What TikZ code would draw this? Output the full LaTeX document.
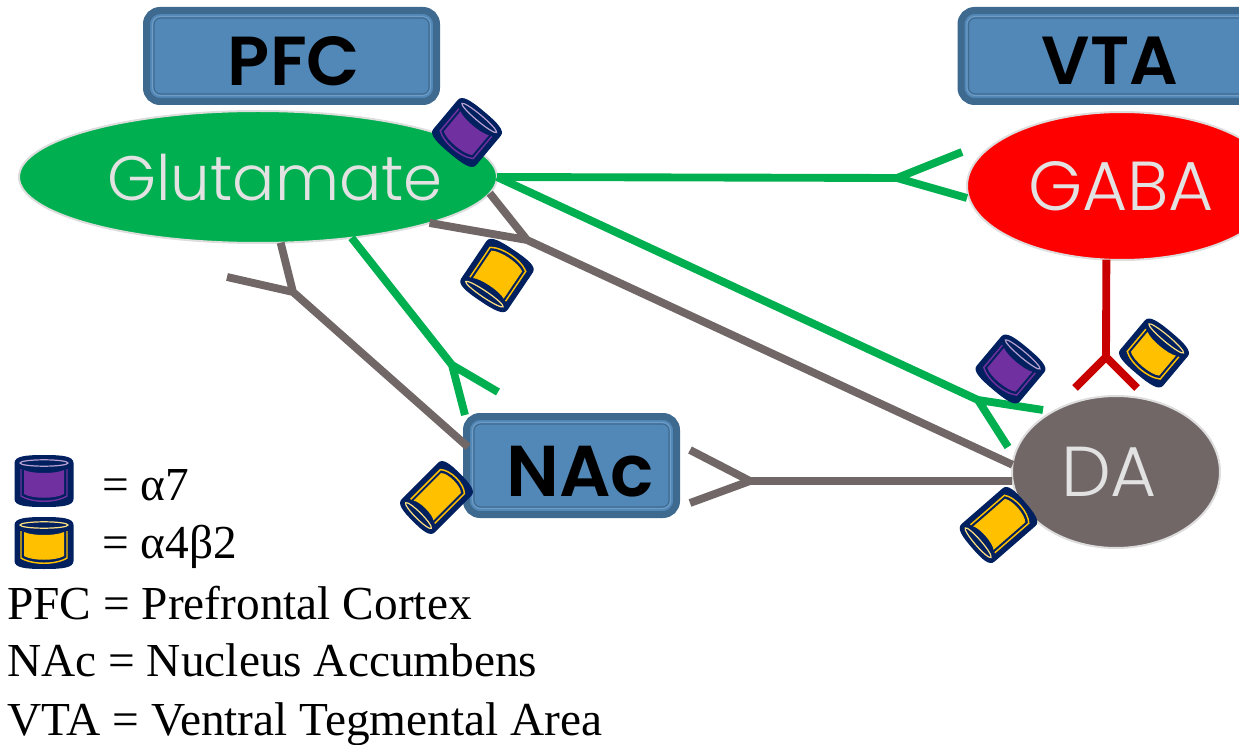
\documentclass[tikz,border=0pt]{standalone}
\usepackage{fontspec}
\usetikzlibrary{shapes.geometric}
\setmainfont{Liberation Serif}
\newfontfamily\gothic{Poppins Light}
\newfontfamily\gothicbold{Poppins SemiBold}
\definecolor{navyr}{HTML}{002060}
\definecolor{purpler}{HTML}{7030A0}
\definecolor{purplel}{HTML}{B9A0D0}
\definecolor{yellowr}{HTML}{FFC000}
\definecolor{yellowl}{HTML}{FFE080}
\definecolor{glutgreen}{HTML}{00B050}
\definecolor{gabared}{HTML}{FF0000}
\definecolor{darkredl}{HTML}{C80000}
\definecolor{dagray}{HTML}{726767}
\definecolor{boxfill}{HTML}{5288B8}
\definecolor{boxedge}{HTML}{3F6A90}
\definecolor{boxlight}{HTML}{6F9CC6}
\definecolor{edgegray}{HTML}{DDDDDD}
\definecolor{lighttext}{HTML}{E2E2E2}
\newcommand{\pxpt}[1]{#1*0.75pt}
\tikzset{
  x=0.75pt,y=-0.75pt,
  regionbox/.style={rectangle,rounded corners=13.5pt*0.75,fill=boxfill,draw=boxedge,line width=7pt*0.75,outer sep=0pt,inner sep=0pt},
  regionname/.style={inner sep=0pt,text=black,font=\gothicbold\fontsize{#1}{60}\selectfont},
  framelight/.style={draw=boxlight,line width=0.8pt,rounded corners=6pt},
  framedark/.style={draw=boxedge,line width=0.8pt,rounded corners=5pt},
  cellbody/.style={ellipse,draw=edgegray,line width=1.5pt,outer sep=0pt,inner sep=0pt},
  cellname/.style={inner sep=0pt,text=lighttext,font=\gothic\fontsize{#1}{60}\selectfont},
  conn/.style={line width=5.9pt,line cap=butt,line join=miter},
  legendtext/.style={anchor=base west,inner sep=0pt,font=\fontsize{35.5}{38}\selectfont,text=black},
}
% x, y, angle, half width, half length, body colour, cap colour
\newcommand{\receptor}[7]{%
  \begin{scope}[shift={(#1,#2)},rotate=#3]
    \pgfmathsetmacro{\rw}{#4}\pgfmathsetmacro{\rl}{#5}
    \fill[navyr] (-\rw,-\rl+8) .. controls (-\rw,-\rl+1) and (-0.6*\rw,-\rl) .. (0,-\rl)
      .. controls (0.6*\rw,-\rl) and (\rw,-\rl+1) .. (\rw,-\rl+8) -- (\rw,\rl-8)
      .. controls (\rw,\rl-1) and (0.6*\rw,\rl) .. (0,\rl)
      .. controls (-0.6*\rw,\rl) and (-\rw,\rl-1) .. (-\rw,\rl-8) -- cycle;
    \draw[#6,line width=1.1pt] (-\rw+6.5,-\rl+14) -- (-\rw+6.5,\rl-11)
      .. controls (-0.4*\rw,\rl-4) and (0.4*\rw,\rl-4) .. (\rw-6.5,\rl-11) -- (\rw-6.5,-\rl+14);
    \fill[#6] (-\rw+9.5,-\rl+15) .. controls (-0.4*\rw,-\rl+19) and (0.4*\rw,-\rl+19) .. (\rw-9.5,-\rl+15)
      -- (\rw-9.5,\rl-13) .. controls (0.4*\rw,\rl-8) and (-0.4*\rw,\rl-8) .. (-\rw+9.5,\rl-13) -- cycle;
    \draw[#7,line width=0.9pt] (0,-\rl+8) ellipse ({\rw-5.5} and 3.2);
  \end{scope}}
\begin{document}
\begin{tikzpicture}
\useasboundingbox (0,0) rectangle (1239,745);
% region boxes
\node[regionbox,minimum width=\pxpt{290},minimum height=\pxpt{91}] (pfc) at (291.5,56) {};
\node[regionbox,minimum width=\pxpt{298},minimum height=\pxpt{91}] (vta) at (1110,56) {};
\node[regionbox,minimum width=\pxpt{210},minimum height=\pxpt{98}] (nac) at (571.5,465.5) {};
\foreach \b in {pfc,vta,nac}{
  \draw[framelight] ([shift={(6,6)}]\b.north west) rectangle ([shift={(-6,-6)}]\b.south east);
  \draw[framedark] ([shift={(7.5,7.5)}]\b.north west) rectangle ([shift={(-7.5,-7.5)}]\b.south east);
}
\node[regionname=52] (pfcname) at (294,61) {PFC};
\node[regionname=51] (vtaname) at (1110,61) {VTA};
\node[regionname=54] (nacname) at (580,472) {NAc};
% cell bodies
\node[cellbody,fill=glutgreen,minimum width=\pxpt{478},minimum height=\pxpt{132}] (glut) at (258,177) {};
\node[cellbody,fill=gabared,minimum width=\pxpt{310},minimum height=\pxpt{148}] (gaba) at (1122,186) {};
\node[cellbody,fill=dagray,minimum width=\pxpt{208},minimum height=\pxpt{152}] (da) at (1116,472) {};
\node[cellname=47] (glutname) at (275,178) {Glutamate};
\node[cellname=52] (gabaname) at (1121,186) {GABA};
\node[cellname=53] (daname) at (1109,472) {DA};
% junctions and free ends
\coordinate (jgaba) at (897,178);
\coordinate (fgabaa) at (962,152);
\coordinate (fgabab) at (967,198);
\coordinate (jda) at (978,400);
\coordinate (fdaa) at (1043,410);
\coordinate (fdab) at (1008,447);
\coordinate (jnac) at (452,365);
\coordinate (fnaca) at (498,392);
\coordinate (fnacb) at (465,415);
\coordinate (jga) at (293,292);
\coordinate (fga) at (227,277);
\coordinate (nacin) at (468,447);
\coordinate (jgb) at (527,240);
\coordinate (jnd) at (750,481);
\coordinate (fnda) at (690,450);
\coordinate (fndb) at (690,503);
\coordinate (jred) at (1106,357);
\coordinate (freda) at (1075,388);
\coordinate (fredb) at (1137,388);
% green connectors
\draw[conn,glutgreen] (glut.-0.7) -- (jgaba) (fgabaa) -- (jgaba) -- (fgabab);
\draw[conn,glutgreen] (glut.-0.7) -- (jda) (fdaa) -- (jda) -- (fdab);
\draw[conn,glutgreen] (glut.-33) -- (jnac) (fnaca) -- (jnac) -- (fnacb);
% gray connectors
\draw[conn,dagray] (glut.-71) -- (jga) (fga) -- (jga) -- (nacin);
\draw[conn,dagray] (glut.-4.5) -- (jgb) (glut.-15.5) -- (jgb) -- (da.176);
\draw[conn,dagray] (da.west |- jnd) -- (jnd) (fnda) -- (jnd) -- (fndb);
% red connector
\draw[conn,darkredl] (gaba.-102) -- (jred) (freda) -- (jred) -- (fredb);
% receptors
\receptor{467}{132.5}{-40}{28}{27}{purpler}{purplel}
\receptor{497}{275.5}{146}{28}{30.5}{yellowr}{yellowl}
\receptor{436.5}{497.5}{135}{23.5}{33.5}{yellowr}{yellowl}
\receptor{1010.5}{369}{-40}{28}{27}{purpler}{purplel}
\receptor{1154}{353}{-40}{28}{27}{yellowr}{yellowl}
\receptor{998.5}{525}{131}{25}{35}{yellowr}{yellowl}
\receptor{44}{481}{0}{29.5}{26}{purpler}{purplel}
\receptor{44}{543}{0}{29.5}{26}{yellowr}{yellowl}
% legend
\node[legendtext] (la) at (102,500) {= α7};
\node[legendtext] (lb) at (102,558) {= α4β2};
\node[legendtext] (lc) at (7,619) {PFC = Prefrontal Cortex};
\node[legendtext] (ld) at (7,676) {NAc = Nucleus Accumbens};
\node[legendtext] (le) at (7,735) {VTA = Ventral Tegmental Area};
\end{tikzpicture}
\end{document}
